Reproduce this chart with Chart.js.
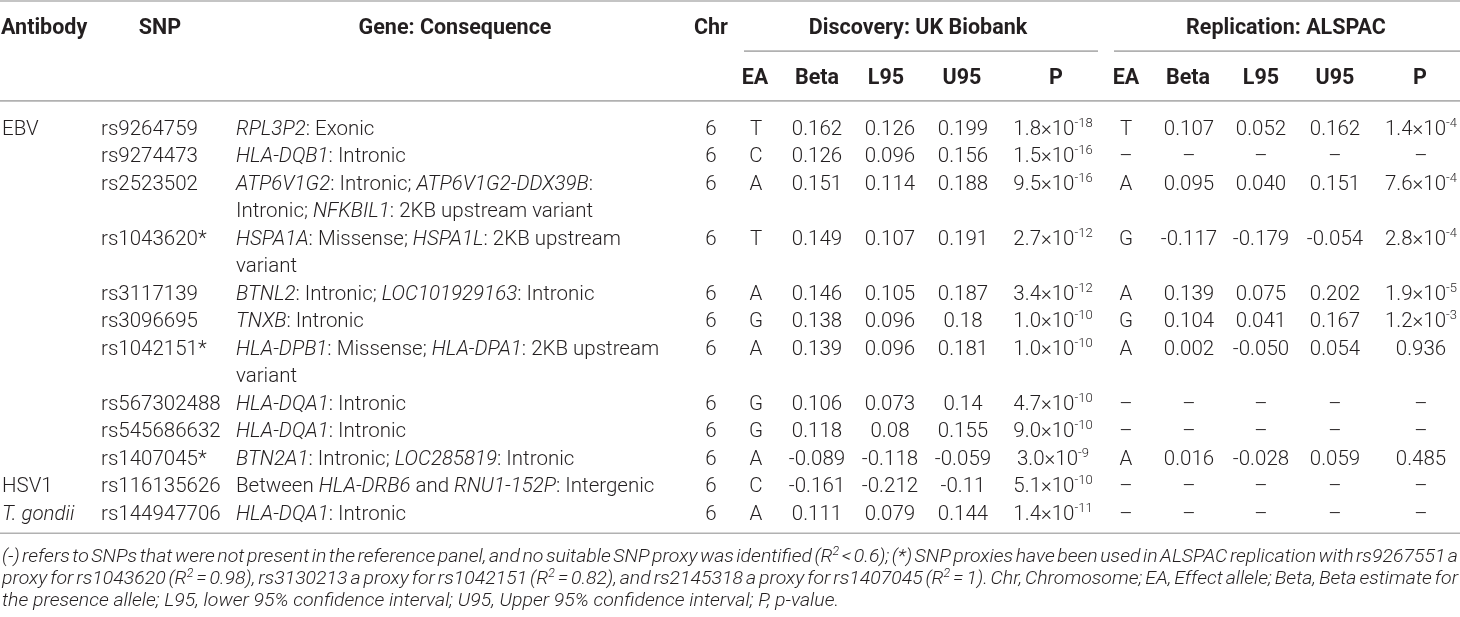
<!DOCTYPE html>
<html>
<head>
<meta charset="utf-8">
<title>SNP association table</title>
<script src="https://cdn.jsdelivr.net/npm/chart.js@4.4.1/dist/chart.umd.min.js"></script>
<style>
  html, body { margin: 0; padding: 0; background: #fff; }
  #wrap { width: 1460px; height: 617px; }
</style>
</head>
<body>
<div id="wrap"><canvas id="table" width="1460" height="617"></canvas></div>
<script>
// Table data - one entry per SNP row
// _text_ = italic, ^text^ = superscript
const antibodies = ['EBV', '', '', '', '', '', '', '', '', '', 'HSV1', '_T. gondii_'];
const snps = ['rs9264759', 'rs9274473', 'rs2523502', 'rs1043620*', 'rs3117139', 'rs3096695',
    'rs1042151*', 'rs567302488', 'rs545686632', 'rs1407045*', 'rs116135626', 'rs144947706'];
const genes = [
    ['_RPL3P2_: Exonic'],
    ['_HLA-DQB1_: Intronic'],
    ['_ATP6V1G2_: Intronic; _ATP6V1G2-DDX39B_:', 'Intronic; _NFKBIL1_: 2KB upstream variant'],
    ['_HSPA1A_: Missense; _HSPA1L_: 2KB upstream', 'variant'],
    ['_BTNL2_: Intronic; _LOC101929163_: Intronic'],
    ['_TNXB_: Intronic'],
    ['_HLA-DPB1_: Missense; _HLA-DPA1_: 2KB upstream', 'variant'],
    ['_HLA-DQA1_: Intronic'],
    ['_HLA-DQA1_: Intronic'],
    ['_BTN2A1_: Intronic; _LOC285819_: Intronic'],
    ['Between _HLA-DRB6_ and _RNU1-152P_: Intergenic'],
    ['_HLA-DQA1_: Intronic']
];
const chromosomes = ['6', '6', '6', '6', '6', '6', '6', '6', '6', '6', '6', '6'];

// Discovery: UK Biobank
const ukEA = ['T', 'C', 'A', 'T', 'A', 'G', 'A', 'G', 'G', 'A', 'C', 'A'];
const ukBeta = ['0.162', '0.126', '0.151', '0.149', '0.146', '0.138', '0.139', '0.106', '0.118', '-0.089', '-0.161', '0.111'];
const ukL95 = ['0.126', '0.096', '0.114', '0.107', '0.105', '0.096', '0.096', '0.073', '0.08', '-0.118', '-0.212', '0.079'];
const ukU95 = ['0.199', '0.156', '0.188', '0.191', '0.187', '0.18', '0.181', '0.14', '0.155', '-0.059', '-0.11', '0.144'];
const ukP = ['1.8e-18', '1.5e-16', '9.5e-16', '2.7e-12', '3.4e-12', '1.0e-10', '1.0e-10', '4.7e-10', '9.0e-10', '3.0e-9', '5.1e-10', '1.4e-11'];

// Replication: ALSPAC (null = SNP not available)
const alEA = ['T', null, 'A', 'G', 'A', 'G', 'A', null, null, 'A', null, null];
const alBeta = ['0.107', null, '0.095', '-0.117', '0.139', '0.104', '0.002', null, null, '0.016', null, null];
const alL95 = ['0.052', null, '0.040', '-0.179', '0.075', '0.041', '-0.050', null, null, '-0.028', null, null];
const alU95 = ['0.162', null, '0.151', '-0.054', '0.202', '0.167', '0.054', null, null, '0.059', null, null];
const alP = ['1.4e-4', null, '7.6e-4', '2.8e-4', '1.9e-5', '1.2e-3', '0.936', null, null, '0.485', null, null];

const footnotes = [
    '(-) refers to SNPs that were not present in the reference panel, and no suitable SNP proxy was identified (R^2^ < 0.6); (*) SNP proxies have been used in ALSPAC replication with rs9267551 a',
    'proxy for rs1043620 (R^2^ = 0.98), rs3130213 a proxy for rs1042151 (R^2^ = 0.82), and rs2145318 a proxy for rs1407045 (R^2^ = 1). Chr, Chromosome; EA, Effect allele; Beta, Beta estimate for',
    'the presence allele; L95, lower 95% confidence interval; U95, Upper 95% confidence interval; P, p-value.'
];

// Styles
const TEXT_COLOR = '#231f20';
const RULE_COLOR = '#b1b1b1';
const FAMILY = 'Roboto, "Liberation Sans", Arial, sans-serif';
const BODY_SIZE = 20.5;
const HEAD_SIZE = 21.5;
const SUP_SIZE = 13;
const NOTE_SIZE = 19;
const BASE_SHIFT = 7.5; // from row centre to text baseline

// Which text line each SNP row starts on (gene text can wrap)
const lineStart = [];
let lineCount = 0;
genes.forEach(g => { lineStart.push(lineCount); lineCount += g.length; });
const lastLine = lineCount - 1;

// Vertical layout in "line" units (one unit = one text line of the body)
const TOP_RULE = -4.58;
const HEAD_ROW = -3.64;
const GROUP_RULE = -2.76;
const SUB_ROW = -1.82;
const HEAD_RULE = -0.95;
const BOTTOM_RULE = lastLine + 0.77;
const NOTE_ROW = lastLine + 1.6;
const NOTE_STEP = 0.8;
const NOTE_LAST_END = 839; // x where the last footnote line ends

function formatP(p) {
    if (p === null) return '–';
    if (p.indexOf('e') < 0) return p;
    const parts = p.split('e');
    return parts[0] + '×10^' + parts[1] + '^';
}

function dash(v) {
    return v === null ? '–' : v;
}

// Column layout: x anchor on a 0..1460 axis
const columns = [
    { values: antibodies, x: 2, align: 'left' },
    { values: snps, x: 101, align: 'left' },
    { values: genes, x: 236, align: 'left', multiline: true },
    { values: chromosomes, x: 711, align: 'center' },
    { values: ukEA, x: 756, align: 'center' },
    { values: ukBeta, x: 817, align: 'center' },
    { values: ukL95, x: 890, align: 'center' },
    { values: ukU95, x: 963, align: 'center' },
    { values: ukP.map(formatP), x: 1053, align: 'center' },
    { values: alEA.map(dash), x: 1126, align: 'center' },
    { values: alBeta.map(dash), x: 1189, align: 'center' },
    { values: alL95.map(dash), x: 1261, align: 'center' },
    { values: alU95.map(dash), x: 1335, align: 'center' },
    { values: alP.map(formatP), x: 1421, align: 'center' }
];

const headers = [
    { text: 'Antibody', x: 1, row: HEAD_ROW, align: 'left' },
    { text: 'SNP', x: 160, row: HEAD_ROW, align: 'center' },
    { text: 'Gene: Consequence', x: 455, row: HEAD_ROW, align: 'center' },
    { text: 'Chr', x: 711, row: HEAD_ROW, align: 'center' },
    { text: 'Discovery: UK Biobank', x: 918, row: HEAD_ROW, align: 'center' },
    { text: 'Replication: ALSPAC', x: 1286, row: HEAD_ROW, align: 'center' },
    { text: 'EA', x: 755, row: SUB_ROW, align: 'center' },
    { text: 'Beta', x: 817, row: SUB_ROW, align: 'center' },
    { text: 'L95', x: 886, row: SUB_ROW, align: 'center' },
    { text: 'U95', x: 962, row: SUB_ROW, align: 'center' },
    { text: 'P', x: 1056, row: SUB_ROW, align: 'center' },
    { text: 'EA', x: 1126, row: SUB_ROW, align: 'center' },
    { text: 'Beta', x: 1188, row: SUB_ROW, align: 'center' },
    { text: 'L95', x: 1261, row: SUB_ROW, align: 'center' },
    { text: 'U95', x: 1335, row: SUB_ROW, align: 'center' },
    { text: 'P', x: 1420, row: SUB_ROW, align: 'center' }
];

const rules = [
    { row: TOP_RULE, from: 0, to: 1460 },
    { row: GROUP_RULE, from: 744, to: 1098 },
    { row: GROUP_RULE, from: 1114, to: 1460 },
    { row: HEAD_RULE, from: 0, to: 1460 },
    { row: BOTTOM_RULE, from: 0, to: 1460 }
];

// Build one point per cell; the text is drawn at the point's position
const cells = [];
columns.forEach(col => {
    col.values.forEach((v, r) => {
        const lines = col.multiline ? v : [v];
        lines.forEach((t, j) => {
            if (t === '' || t === undefined) return;
            cells.push({ x: col.x, y: lineStart[r] + j, text: t, align: col.align });
        });
    });
});

// Split marked-up text into styled runs
function parseRich(text) {
    const runs = [];
    let italic = false, sup = false, buf = '';
    for (const ch of text) {
        if (ch === '_' || ch === '^') {
            if (buf) runs.push({ text: buf, italic: italic, sup: sup });
            buf = '';
            if (ch === '_') italic = !italic; else sup = !sup;
        } else {
            buf += ch;
        }
    }
    if (buf) runs.push({ text: buf, italic: italic, sup: sup });
    return runs;
}

function runFont(run, base) {
    const italic = run.italic || base.italic ? 'italic ' : '';
    const size = run.sup ? base.supSize : base.size;
    return italic + base.weight + ' ' + size + 'px ' + FAMILY;
}

function richWidth(ctx, runs, base) {
    let w = 0;
    runs.forEach(run => {
        ctx.font = runFont(run, base);
        w += ctx.measureText(run.text).width;
    });
    return w;
}

function drawRich(ctx, text, x, y, align, base) {
    const runs = parseRich(text);
    const w = richWidth(ctx, runs, base);
    let cx = x;
    if (align === 'center') cx = x - w / 2;
    else if (align === 'right') cx = x - w;
    ctx.textAlign = 'left';
    ctx.textBaseline = 'alphabetic';
    runs.forEach(run => {
        ctx.font = runFont(run, base);
        ctx.fillText(run.text, cx, run.sup ? y - base.supRise : y);
        cx += ctx.measureText(run.text).width;
    });
}

const bodyStyle = { weight: '300', size: BODY_SIZE, supSize: SUP_SIZE, supRise: 8, italic: false };
const headStyle = { weight: 'bold', size: HEAD_SIZE, supSize: SUP_SIZE, supRise: 8, italic: false };
const noteStyle = { weight: '300', size: NOTE_SIZE, supSize: 12, supRise: 7, italic: true };

const tablePlugin = {
    id: 'tablePlugin',
    afterDatasetsDraw(chart) {
        const ctx = chart.ctx;
        const xs = chart.scales.x;
        const ys = chart.scales.y;
        ctx.save();

        // rules
        ctx.strokeStyle = RULE_COLOR;
        ctx.lineWidth = 1.6;
        rules.forEach(r => {
            const y = ys.getPixelForValue(r.row);
            ctx.beginPath();
            ctx.moveTo(xs.getPixelForValue(r.from), y);
            ctx.lineTo(xs.getPixelForValue(r.to), y);
            ctx.stroke();
        });

        ctx.fillStyle = TEXT_COLOR;

        // header labels
        headers.forEach(h => {
            drawRich(ctx, h.text, xs.getPixelForValue(h.x), ys.getPixelForValue(h.row) + BASE_SHIFT, h.align, headStyle);
        });

        // body cells, drawn at each point element
        const meta = chart.getDatasetMeta(0);
        const data = chart.data.datasets[0].data;
        meta.data.forEach((el, i) => {
            drawRich(ctx, data[i].text, el.x, el.y + BASE_SHIFT, data[i].align, bodyStyle);
        });

        // footnote, justified across the table width
        const left = xs.getPixelForValue(2);
        const right = xs.getPixelForValue(1458);
        const lastRuns = parseRich(footnotes[footnotes.length - 1]);
        const squeeze = (xs.getPixelForValue(NOTE_LAST_END) - left) / richWidth(ctx, lastRuns, noteStyle);
        footnotes.forEach((line, i) => {
            const y = ys.getPixelForValue(NOTE_ROW + i * NOTE_STEP) + 6;
            const words = line.split(' ');
            const widths = words.map(w => richWidth(ctx, parseRich(w), noteStyle) * squeeze);
            const total = widths.reduce((a, b) => a + b, 0);
            ctx.font = runFont({ italic: true, sup: false }, noteStyle);
            let gap = ctx.measureText(' ').width * squeeze;
            if (i < footnotes.length - 1) gap = (right - left - total) / (words.length - 1);
            let x = left;
            words.forEach((w, k) => {
                ctx.save();
                ctx.translate(x, y);
                ctx.scale(squeeze, 1);
                drawRich(ctx, w, 0, 0, 'left', noteStyle);
                ctx.restore();
                x += widths[k] + gap;
            });
        });

        ctx.restore();
    }
};

const PITCH = 27.5;   // px per text line
const FIRST = 127;    // px of first body line

new Chart(document.getElementById('table'), {
    type: 'scatter',
    data: {
        datasets: [{
            data: cells,
            pointRadius: 0,
            pointHoverRadius: 0,
            showLine: false
        }]
    },
    options: {
        responsive: false,
        animation: false,
        events: [],
        layout: { padding: 0 },
        plugins: {
            legend: { display: false },
            tooltip: { enabled: false }
        },
        scales: {
            x: { type: 'linear', min: 0, max: 1460, display: false },
            y: { type: 'linear', reverse: true, min: -FIRST / PITCH, max: (617 - FIRST) / PITCH, display: false }
        }
    },
    plugins: [tablePlugin]
});
</script>
</body>
</html>
